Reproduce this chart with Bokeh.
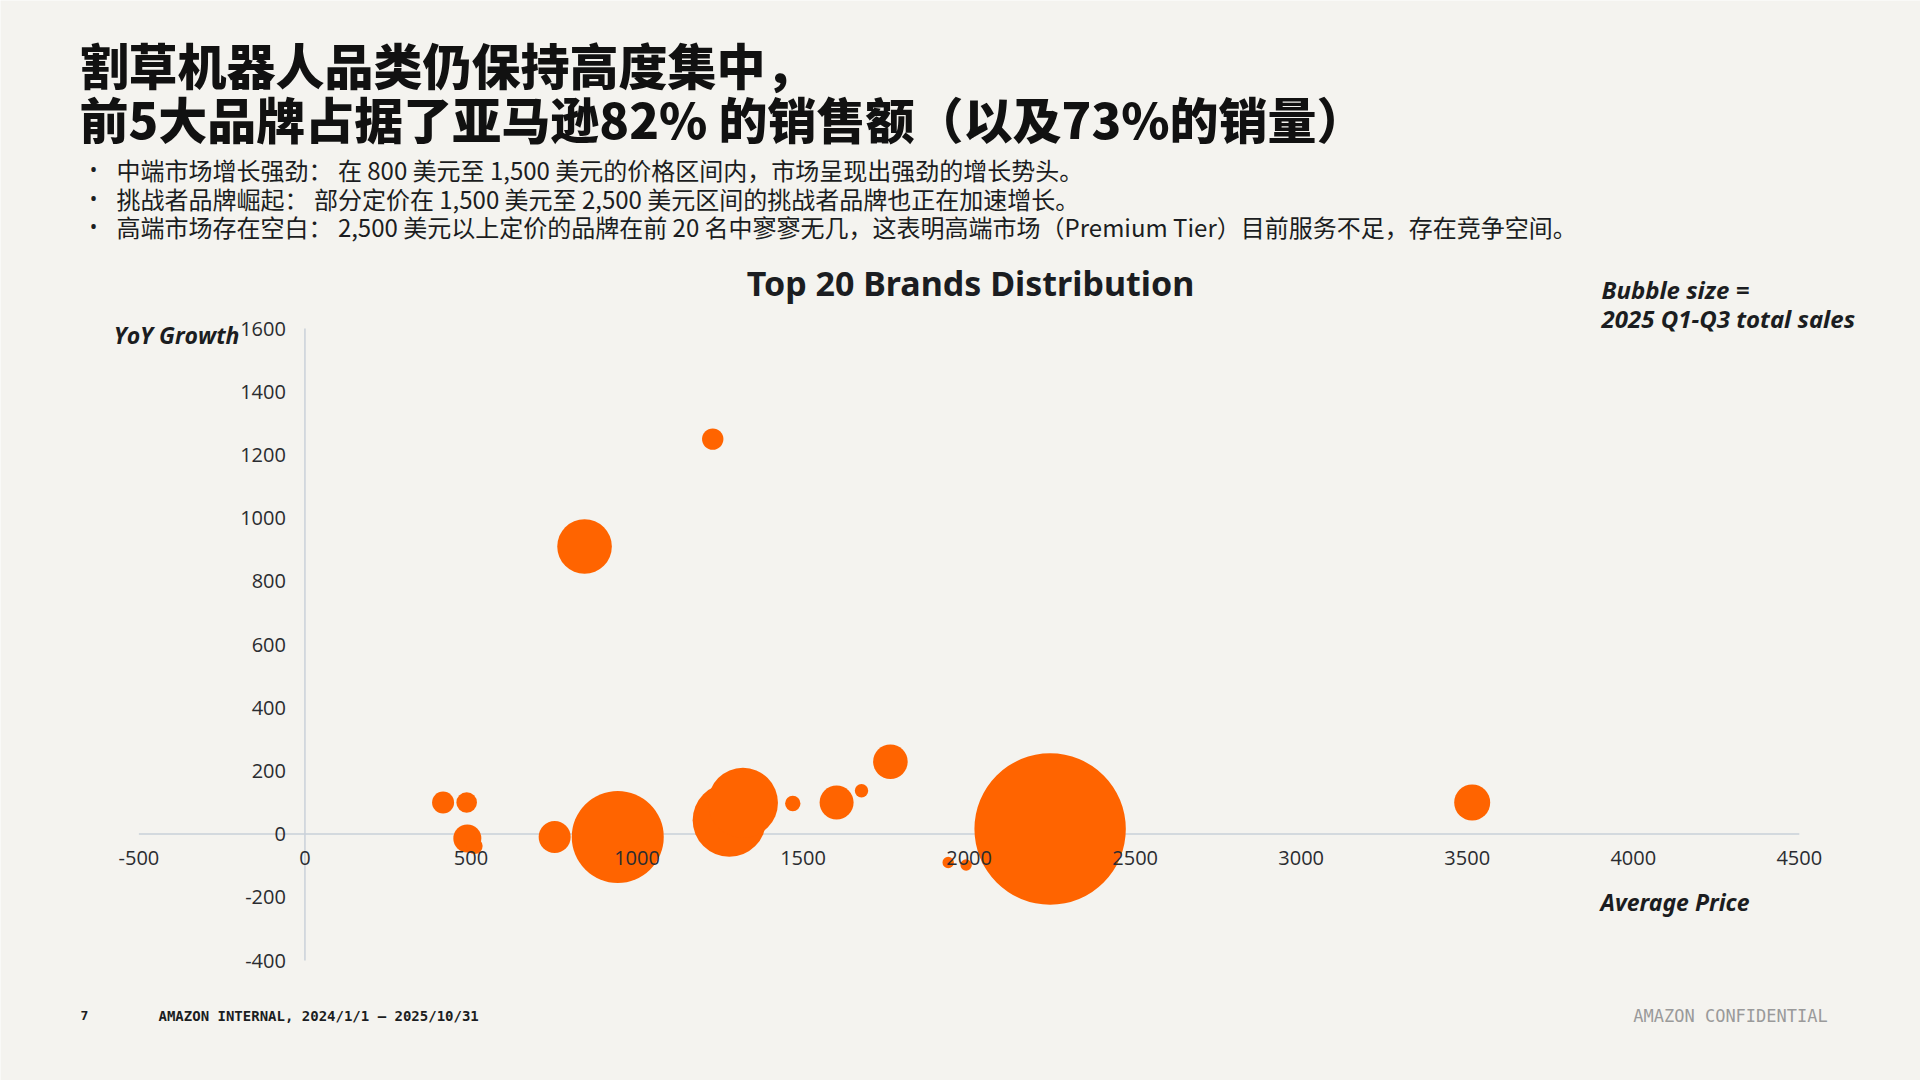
from bokeh.plotting import figure
from bokeh.models import Label, FixedTicker, Range1d, ColumnDataSource, NumeralTickFormatter
from bokeh.embed import file_html
from bokeh.resources import INLINE
import numpy as np

# ---- data ----
avg_price = [1228, 842, 416, 487, 489, 511, 752, 942, 1278, 1319, 1469, 1601, 1676, 1763, 1937, 1991, 2244, 3515]
yoy_growth = [1250, 910, 100, 100, -14, -38, -9, -9, 44, 99, 97, 100, 137, 229, -90, -98, 16, 100]
sales_k = [1145, 7450, 1210, 1060, 1960, 640, 2560, 21160, 13470, 12250, 590, 2890, 450, 2990, 325, 325, 57300, 3240]

x_ticks = [-500, 0, 500, 1000, 1500, 2000, 2500, 3000, 3500, 4000, 4500]
y_ticks = [-400, -200, 0, 200, 400, 600, 800, 1000, 1200, 1400, 1600]

title_lines = ["割草机器人品类仍保持高度集中，", "前5大品牌占据了亚马逊82% 的销售额（以及73%的销量）"]
bullets = [
    "中端市场增长强劲：  在 800 美元至 1,500 美元的价格区间内，市场呈现出强劲的增长势头。",
    "挑战者品牌崛起：  部分定价在 1,500 美元至 2,500 美元区间的挑战者品牌也正在加速增长。",
    "高端市场存在空白：  2,500 美元以上定价的品牌在前 20 名中寥寥无几，这表明高端市场（Premium Tier）目前服务不足，存在竞争空间。",
]

BG = "#f4f3ef"
ORANGE = "#ff6400"
AXIS = "#c9d0d9"
INK = "#1b1d21"

W, H = 1920, 1080
# pixel box of the plotting area inside the page
PL, PR, PT, PB = 138.4, 1798.8, 328.0, 960.0
xs = (PR - PL) / (x_ticks[-1] - x_ticks[0])
ys = (PB - PT) / (y_ticks[-1] - y_ticks[0])
x_start = x_ticks[0] - PL / xs
x_end = x_start + W / xs
y_end = y_ticks[-1] + PT / ys
y_start = y_end - H / ys

src = ColumnDataSource(dict(
    x=avg_price, y=yoy_growth,
    d=[2.0 * np.sqrt(s / 10.0) for s in sales_k],
))

p = figure(
    frame_width=W, frame_height=H, min_border=0,
    x_range=Range1d(x_start, x_end), y_range=Range1d(y_start, y_end),
    output_backend="svg", toolbar_location=None,
    background_fill_color=BG, border_fill_color=BG, outline_line_color=None,
)
p.grid.visible = False

for ax, ticks in ((p.xaxis, x_ticks), (p.yaxis, y_ticks)):
    ax.fixed_location = 0
    ax.ticker = FixedTicker(ticks=ticks)
    ax.formatter = NumeralTickFormatter(format="0")
    ax.axis_line_color = None
    ax.major_tick_line_color = None
    ax.minor_tick_line_color = None
    ax.major_label_text_font = "Open Sans"
    ax.major_label_text_font_size = "20px"
    ax.major_label_text_color = "#2a2c30"
p.xaxis.major_label_standoff = 11
p.yaxis.major_label_standoff = 13

# axis lines crossing at zero
p.segment(x0=[x_ticks[0], 0], y0=[0, y_ticks[0]], x1=[x_ticks[-1], 0], y1=[0, y_ticks[-1]],
          line_color=AXIS, line_width=1.5)

p.scatter("x", "y", size="d", source=src, fill_color=ORANGE, line_color=None)


def add_label(px, py, text, size, font, style="normal", color=INK, align="left", baseline="middle"):
    p.add_layout(Label(
        x=px, y=H - py, x_units="screen", y_units="screen",
        text=text, text_font=font, text_font_size=f"{size}px",
        text_font_style=style, text_color=color,
        text_align=align, text_baseline=baseline,
    ))


CJK = "Noto Sans CJK SC"
CJK_HEAVY = "'Noto Sans CJK SC Black', 'Noto Sans CJK SC'"
add_label(79, 63, title_lines[0], 49, CJK_HEAVY, style="bold", color="#111111")
add_label(79, 117, title_lines[1], 49, CJK_HEAVY, style="bold", color="#111111")

for i, b in enumerate(bullets):
    yy = 169 + i * 28.5
    add_label(93, yy, "•", 20, "Noto Sans", align="center")
    add_label(116, yy, b, 24, CJK)

add_label(970, 282, "Top 20 Brands Distribution", 34, "Noto Sans", style="bold", align="center")
add_label(1601, 289, "Bubble size =", 24, "Noto Sans", style="bold italic")
add_label(1601, 318, "2025 Q1-Q3 total sales", 24, "Noto Sans", style="bold italic")
add_label(239, 334, "YoY Growth", 23, "Open Sans", style="bold italic", align="right")
add_label(1600, 901, "Average Price", 23, "Noto Sans", style="bold italic")

add_label(80, 1015, "7", 13, "DejaVu Sans Mono", style="bold")
add_label(158, 1015, "AMAZON INTERNAL, 2024/1/1 – 2025/10/31", 14, "DejaVu Sans Mono", style="bold")
add_label(1730, 1015, "AMAZON CONFIDENTIAL", 17, "DejaVu Sans Mono", color="#9a9a9a", align="center")

open("out.html", "w").write(file_html(p, INLINE))
